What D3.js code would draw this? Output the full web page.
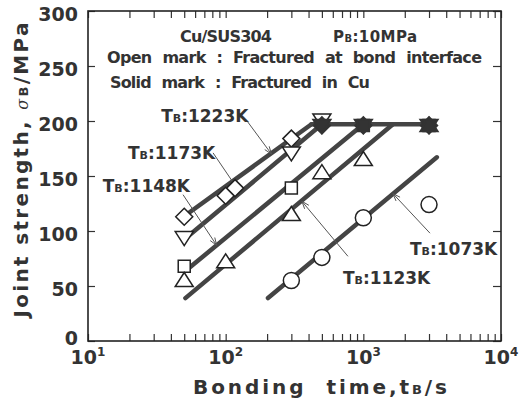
<!DOCTYPE html>
<html><head><meta charset="utf-8">
<script src="https://cdn.jsdelivr.net/npm/d3@7"></script>
<style>
body{margin:0;background:#fff}
svg{display:block}
text{font-family:"DejaVu Sans",sans-serif;font-weight:bold;fill:#333}
</style></head><body>
<svg width="531" height="401"></svg>
<script>
// ---- data ----
const temps = ["1223K","1173K","1148K","1123K","1073K"];
// open marks (fractured at bond interface)
const open1223T = [50,100,117,300],      open1223S = [113,132,139,184];
const open1173T = [50,300,500],          open1173S = [94,171,201];
const open1148T = [50,300],              open1148S = [68,139];
const open1123T = [50,100,300,500,1000], open1123S = [55,72,115,153,165];
const open1073T = [300,500,1000,3000],   open1073S = [55,76,112,124];
// solid marks (fractured in Cu)
const solid1223T = [500,1000,3000], solid1223S = [196,196,196];
const solid1173T = [500,1000,3000], solid1173S = [196,196,196];
const solid1148T = [1000,3000],     solid1148S = [196,196];
const solid1123T = [3000],          solid1123S = [196];
// fitted lines
const line1223T = [52,420],   line1223S = [115,197];
const line1173T = [52,500],   line1173S = [94,197];
const line1148T = [55,1000],  line1148S = [67,197];
const line1123T = [51,1640],  line1123S = [39,197];
const line1073T = [203,3420], line1073S = [39,167];
const plateauT = [420,3000],  plateauS = [197,197];
// labels: text start (t,s), arrow start, arrow end
const labT  = [34,19.5,12.8,711,2180], labS  = [199,165.5,135.5,52,78];
const arrT0 = [143,81,49,773,3050],    arrS0 = [200,171,133,77,98];
const arrT1 = [215,127,86,358,1640],   arrS1 = [170,135,87,127,134];
const yTicks = [0,50,100,150,200,250,300];
const xMajor = [10,100,1000,10000], xExp = ["1","2","3","4"];

// ---- scales ----
const svg = d3.select("svg");
const x = d3.scaleLog().domain([10,10000]).range([88,501]);
const y = d3.scaleLinear().domain([0,300]).range([341,11]);
const zip = (T,S)=>T.map((t,i)=>[t,S[i]]);

// ---- axes (inward ticks on all sides) ----
function styleAxis(g){ g.select(".domain").remove(); g.selectAll(".tick line").attr("stroke","#333").attr("stroke-width",1.2); }
svg.append("g").attr("transform",`translate(0,${y(0)})`)
  .call(d3.axisBottom(x).tickValues(x.ticks()).tickSize(-7).tickFormat("")).call(styleAxis);
svg.append("g").attr("transform",`translate(0,${y(300)})`)
  .call(d3.axisTop(x).tickValues(x.ticks()).tickSize(-7).tickFormat("")).call(styleAxis);
svg.append("g").attr("transform",`translate(${x(10)},0)`)
  .call(d3.axisLeft(y).tickValues(yTicks).tickSize(-7).tickFormat("")).call(styleAxis);
svg.append("g").attr("transform",`translate(${x(10000)},0)`)
  .call(d3.axisRight(y).tickValues(yTicks).tickSize(-8).tickFormat("")).call(styleAxis);
svg.append("rect").attr("x",x(10)).attr("y",y(300)).attr("width",x(10000)-x(10)).attr("height",y(0)-y(300))
  .attr("fill","none").attr("stroke","#222").attr("stroke-width",1.6);

// tick labels
yTicks.forEach(v=>{
  svg.append("text").attr("x",78).attr("y",v===0? y(v)-3 : y(v)+3).attr("dominant-baseline","central")
    .attr("text-anchor","end").attr("font-size",19).text(v);
});
xMajor.forEach((v,i)=>{
  const t = svg.append("text").attr("x",x(v)).attr("y",364).attr("text-anchor","middle").attr("font-size",19);
  t.append("tspan").text("10");
  t.append("tspan").attr("font-size",12).attr("dy",-8).text(xExp[i]);
});

// axis titles
const xt = svg.append("text").attr("x",320).attr("y",394).attr("text-anchor","middle").attr("font-size",20)
  .attr("word-spacing",10).attr("textLength",254).attr("lengthAdjust","spacing");
xt.append("tspan").text("Bonding time,t");
xt.append("tspan").attr("font-size",13).text("B");
xt.append("tspan").text("/s");

const yt = svg.append("text").attr("transform","translate(28,170) rotate(-90)").attr("text-anchor","middle")
  .attr("font-size",20).attr("textLength",295).attr("lengthAdjust","spacing");
yt.append("tspan").text("Joint  strength,  ");
yt.append("tspan").attr("font-family","DejaVu Serif").attr("font-style","italic").attr("font-weight","normal").attr("font-size",16).text("σ");
yt.append("tspan").attr("font-size",13).text("B");
yt.append("tspan").text("/MPa");

// header texts
svg.append("text").attr("x",180).attr("y",42).attr("font-size",16).attr("textLength",92).attr("lengthAdjust","spacing").text("Cu/SUS304");
const h2 = svg.append("text").attr("x",333).attr("y",42).attr("font-size",15).attr("textLength",84).attr("lengthAdjust","spacing");
h2.append("tspan").text("P"); h2.append("tspan").attr("font-size",10).text("B"); h2.append("tspan").text(":10MPa");
svg.append("text").attr("x",107).attr("y",63).attr("font-size",16).attr("textLength",375).attr("lengthAdjust","spacing")
  .attr("word-spacing",6).text("Open mark : Fractured at bond interface");
svg.append("text").attr("x",110).attr("y",88).attr("font-size",16).attr("textLength",260).attr("lengthAdjust","spacing")
  .attr("word-spacing",6).text("Solid mark : Fractured in Cu");

// ---- fitted lines ----
const line = d3.line().x(d=>x(d[0])).y(d=>y(d[1]));
[[line1223T,line1223S],[line1173T,line1173S],[line1148T,line1148S],[line1123T,line1123S],[line1073T,line1073S],[plateauT,plateauS]]
  .forEach(([T,S])=>{
    svg.append("path").attr("d",line(zip(T,S))).attr("fill","none").attr("stroke","#444")
      .attr("stroke-width",4.5).attr("stroke-linecap","round").attr("stroke-linejoin","round");
  });

// ---- annotation arrows and labels ----
temps.forEach((tk,i)=>{
  const x0=x(arrT0[i]), y0=y(arrS0[i]), x1=x(arrT1[i]), y1=y(arrS1[i]);
  svg.append("line").attr("x1",x0).attr("y1",y0).attr("x2",x1).attr("y2",y1).attr("stroke","#555").attr("stroke-width",1);
  const a=Math.atan2(y1-y0,x1-x0), L=8, w=0.35;
  svg.append("path").attr("d",`M${x1-L*Math.cos(a-w)},${y1-L*Math.sin(a-w)}L${x1},${y1}L${x1-L*Math.cos(a+w)},${y1-L*Math.sin(a+w)}`)
    .attr("fill","none").attr("stroke","#555").attr("stroke-width",1);
  const t = svg.append("text").attr("x",x(labT[i])).attr("y",y(labS[i])).attr("font-size",17);
  t.append("tspan").text("T"); t.append("tspan").attr("font-size",11).text("B"); t.append("tspan").text(":"+tk);
});

// ---- markers ----
function shapePath(s){
  switch(s){
    case "diamond": return "M0,-8.5L8.5,0L0,8.5L-8.5,0Z";
    case "down": return "M-9,-6L9,-6L0,8Z";
    case "up": return "M0,-8L9,6L-9,6Z";
    case "square": return "M-6,-6L6,-6L6,6L-6,6Z";
    case "circle": return "M8,0A8,8 0 1,1 -8,0A8,8 0 1,1 8,0Z";
  }
}
function marks(T,S,shape,solid){
  svg.append("g").selectAll("path").data(zip(T,S)).join("path")
    .attr("transform",d=>`translate(${x(d[0])},${y(d[1])})`).attr("d",shapePath(shape))
    .attr("fill",solid?"#333":"#fff").attr("stroke",solid?"#333":"#222").attr("stroke-width",1.5);
}
marks(open1223T,open1223S,"diamond",false);
marks(open1173T,open1173S,"down",false);
marks(open1148T,open1148S,"square",false);
marks(open1123T,open1123S,"up",false);
marks(open1073T,open1073S,"circle",false);
marks(solid1223T,solid1223S,"diamond",true);
marks(solid1173T,solid1173S,"down",true);
marks(solid1148T,solid1148S,"square",true);
marks(solid1123T,solid1123S,"up",true);
</script>
</body></html>
